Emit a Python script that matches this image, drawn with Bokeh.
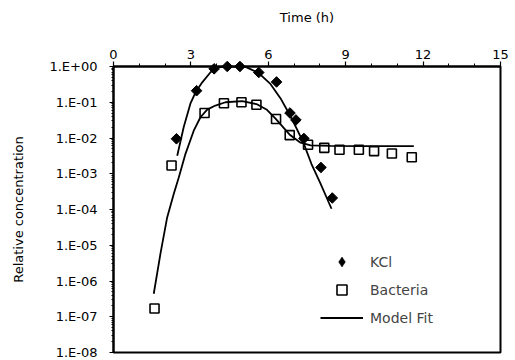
import math
from bokeh.plotting import figure
from bokeh.models import Range1d, FixedTicker, Legend, LegendItem
from bokeh.embed import file_html
from bokeh.resources import INLINE

# ---- data ----
kcl_time = [2.44, 3.22, 3.90, 4.41, 4.90, 5.63, 6.32, 6.84, 7.07, 7.38, 8.04, 8.48]
kcl_conc = [9.5e-3, 0.21, 0.86, 1.0, 1.0, 0.68, 0.37, 0.050, 0.032, 9.7e-3, 1.5e-3, 2.1e-4]

bac_time = [1.59, 2.25, 3.53, 4.28, 4.96, 5.54, 6.30, 6.83, 7.54, 8.17, 8.76, 9.51, 10.10, 10.79, 11.56]
bac_conc = [1.7e-7, 1.7e-3, 0.050, 0.094, 0.10, 0.085, 0.034, 0.012, 6.5e-3, 5.3e-3,
            4.7e-3, 4.7e-3, 4.3e-3, 3.7e-3, 2.9e-3]

kcl_fit_time = [2.47, 2.72, 2.98, 3.18, 3.44, 3.76, 4.02, 4.38, 4.77, 5.12, 5.62, 6.09,
                6.47, 6.82, 7.09, 7.36, 7.67, 8.02, 8.45]
kcl_fit_conc = [3.2e-3, 0.020, 0.091, 0.19, 0.36, 0.69, 0.95, 1.0, 1.0, 0.98, 0.66, 0.32,
                0.13, 0.046, 0.019, 7.4e-3, 1.9e-3, 5.4e-4, 1.05e-4]

bac_fit_time = [1.56, 1.82, 2.08, 2.34, 2.53, 2.79, 3.11, 3.37, 3.63, 3.95, 4.34, 4.99,
                5.54, 5.93, 6.28, 6.82, 7.25, 7.64, 8.41, 9.57, 11.64]
bac_fit_conc = [4.4e-7, 5.8e-6, 6.0e-5, 2.8e-4, 7.9e-4, 3.6e-3, 0.016, 0.038, 0.062, 0.081,
                0.10, 0.107, 0.089, 0.063, 0.035, 0.0126, 7.4e-3, 6.2e-3, 6.0e-3, 5.9e-3, 5.9e-3]

x_ticks = [0, 3, 6, 9, 12, 15]
y_ticks = [1e-8, 1e-7, 1e-6, 1e-5, 1e-4, 1e-3, 1e-2, 1e-1, 1e0]
y_tick_labels = ["1.E-08", "1.E-07", "1.E-06", "1.E-05", "1.E-04", "1.E-03", "1.E-02", "1.E-01", "1.E+00"]

series_labels = ["KCl", "Bacteria", "Model Fit"]

FONT = "DejaVu Sans"

p = figure(width=515, height=360, x_range=Range1d(0, 15), y_range=Range1d(1e-8, 1),
           y_axis_type="log", x_axis_location="above",
           output_backend="svg", toolbar_location=None,
           min_border_left=113, min_border_right=15, min_border_top=66, min_border_bottom=8)

p.grid.visible = False
p.outline_line_color = "black"
p.outline_line_width = 2
p.background_fill_color = "white"
p.border_fill_color = "white"

xa = p.xaxis[0]
xa.ticker = FixedTicker(ticks=x_ticks, minor_ticks=list(range(0, 16)))
xa.axis_label = "Time (h)"
ya = p.yaxis[0]
ya.ticker = FixedTicker(ticks=y_ticks,
                        minor_ticks=[m * 10.0 ** k for k in range(-8, 0) for m in range(2, 10)])
ya.major_label_overrides = {t: l for t, l in zip(y_ticks, y_tick_labels)}
ya.axis_label = "Relative concentration"

for ax in (xa, ya):
    ax.axis_line_width = 2
    ax.major_tick_in = 0
    ax.minor_tick_in = 0
    ax.major_tick_line_width = 1.2
    ax.minor_tick_line_width = 1
    ax.major_label_text_font = FONT
    ax.major_label_text_font_size = "13px"
    ax.major_label_text_color = "black"
    ax.axis_label_text_font = FONT
    ax.axis_label_text_font_size = "13px"
    ax.axis_label_text_font_style = "normal"
    ax.axis_label_text_color = "black"

xa.major_tick_out = 5
xa.minor_tick_out = 3
xa.major_label_standoff = 3
xa.axis_label_standoff = 22
ya.major_tick_out = 4
ya.minor_tick_out = 2
ya.major_label_standoff = 12
ya.axis_label_standoff = 20

kf = p.line(kcl_fit_time, kcl_fit_conc, line_color="black", line_width=1.8)
bf = p.line(bac_fit_time, bac_fit_conc, line_color="black", line_width=1.8)
# diamond-shaped key glyph for the legend (drawn underneath the KCl markers)
kd_key = p.scatter(kcl_time, kcl_conc, marker="diamond", size=9,
                   fill_color="black", line_color="black", line_width=0.5, level="overlay")
kd = p.scatter(kcl_time, kcl_conc, marker="square", angle=math.pi / 4, size=7.5,
               fill_color="black", line_color="black", level="overlay")
bs = p.scatter(bac_time, bac_conc, marker="square", size=9, fill_alpha=0,
               line_color="black", line_width=1.6)

legend = Legend(items=[LegendItem(label=series_labels[0], renderers=[kd_key]),
                       LegendItem(label=series_labels[1], renderers=[bs]),
                       LegendItem(label=series_labels[2], renderers=[kf])],
                location=(207, 22), glyph_width=43, glyph_height=25, spacing=3,
                label_standoff=7, padding=0, margin=0, border_line_color=None,
                background_fill_alpha=0, label_text_font=FONT,
                label_text_font_size="14px", label_height=25)
p.add_layout(legend)

open("out.html", "w").write(file_html(p, INLINE))
